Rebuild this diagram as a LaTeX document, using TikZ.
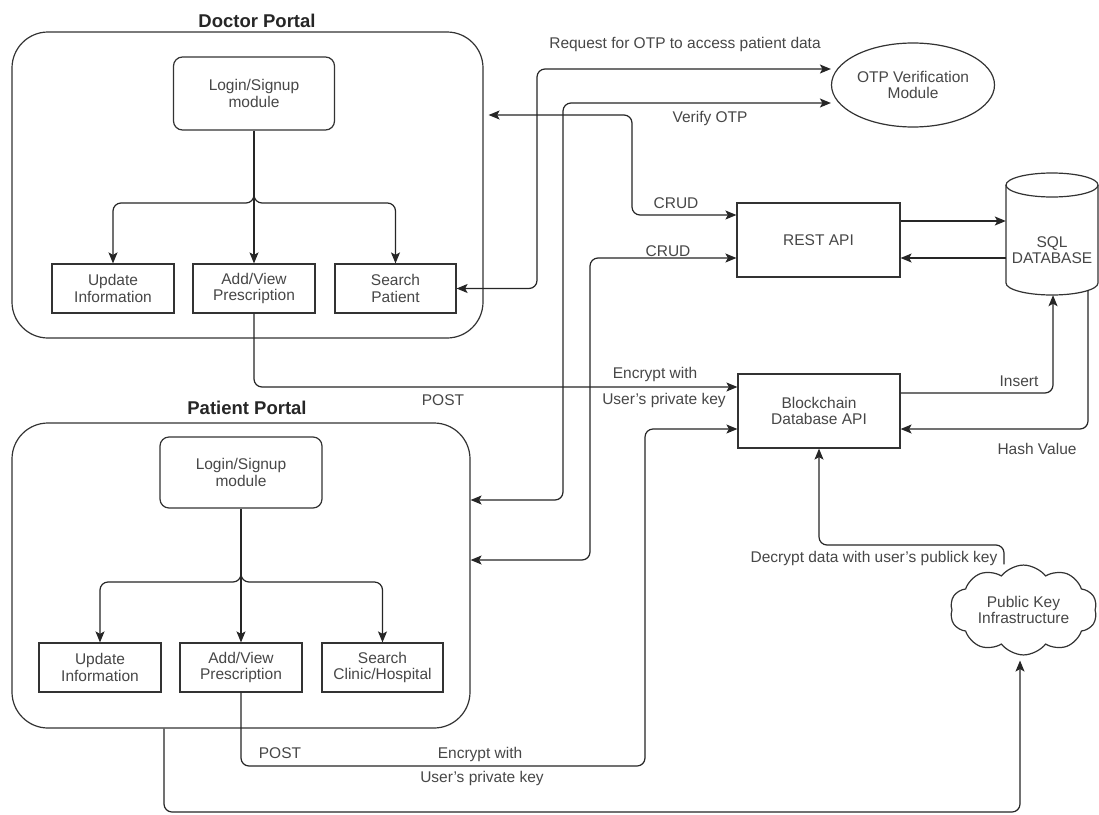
\documentclass[tikz,border=0pt]{standalone}
\usepackage{fontspec}
\setmainfont{Liberation Sans}
\usetikzlibrary{arrows.meta,shapes.geometric,shapes.symbols}
\begin{document}
\begin{tikzpicture}[x=1pt,y=-1pt,
  every node/.style={font=\fontsize{15.5}{16.5}\selectfont, text=black!72, inner sep=0pt, align=center},
  box/.style={draw=black!80, line width=1.2pt, minimum width=122pt, minimum height=49pt},
  rbox/.style={draw=black!80, line width=1.2pt, rounded corners=9pt},
  portal/.style={draw=black!80, line width=1.2pt, rounded corners=36pt},
  ttl/.style={font=\fontsize{18.5}{20}\selectfont\bfseries, text=black!85},
  conn/.style={draw=black!85, line width=1.2pt, rounded corners=8pt},
  arr/.style={conn, -{Stealth[length=11pt,width=9pt,inset=2.5pt]}},
  barr/.style={conn, {Stealth[length=11pt,width=9pt,inset=2.5pt]}-{Stealth[length=11pt,width=9pt,inset=2.5pt]}},
]
\useasboundingbox[fill=white] (0,0) rectangle (1099,814);

% ---------- Doctor portal ----------
\node[ttl] (dtitle) at (257,21) {Doctor Portal};
\node[portal, minimum width=471pt, minimum height=306pt] (dp) at (247.5,185) {};
\node[rbox, minimum width=161pt, minimum height=73pt] (dlogin) at (254,93.5) {Login/Signup\\module};
\node[box] (dupd) at (113,288.5) {Update\\Information};
\node[box] (dadd) at (254,288.5) {Add/View\\Prescription};
\node[box, minimum width=121pt] (dsearch) at (395.5,288.5) {Search\\Patient};

% ---------- Patient portal ----------
\node[ttl] (ptitle) at (247,408) {Patient Portal};
\node[portal, minimum width=458pt, minimum height=305pt] (pp) at (241,575.5) {};
\node[rbox, minimum width=162pt, minimum height=71pt] (plogin) at (241,472.5) {Login/Signup\\module};
\node[box] (pupd) at (100,667.5) {Update\\Information};
\node[box] (padd) at (241,667.5) {Add/View\\Prescription};
\node[box, minimum width=121pt] (psearch) at (382.5,667.5) {Search\\Clinic/Hospital};

% ---------- Services ----------
\node[ellipse, draw=black!80, line width=1.2pt, minimum width=163pt, minimum height=84pt] (otp) at (913,85) {OTP Verification\\Module};
\node[box, minimum width=163pt, minimum height=74pt] (rest) at (818.5,240) {REST API};
\node[box, minimum width=162pt, minimum height=74pt] (blk) at (819,411) {Blockchain\\Database API};
\node[minimum width=92pt, minimum height=90pt] (sql) at (1052,250) {SQL\\DATABASE};
\draw[draw=black!80, line width=1.2pt] (1006,185) -- (1006,283)
  .. controls (1006,289.6) and (1026.6,295) .. (1052,295)
  .. controls (1077.4,295) and (1098,289.6) .. (1098,283) -- (1098,185);
\draw[draw=black!80, line width=1.2pt] (1052,185) ellipse [x radius=46pt, y radius=12pt];
\node[cloud, draw=black!80, line width=1.2pt, cloud puffs=10, cloud puff arc=105, aspect=1.75,
  minimum width=147pt, minimum height=84pt] (pki) at (1023.5,610) {Public Key\\Infrastructure};

% ---------- Doctor internal connectors ----------
\draw[arr] (dlogin.south) -- (dadd.north);
\draw[arr] (254,195) -- (254,203) -- (dupd.north |- 0,203) -- (dupd.north);
\draw[arr] (254,195) -- (254,203) -- (dsearch.north |- 0,203) -- (dsearch.north);

% ---------- Patient internal connectors ----------
\draw[arr] (plogin.south) -- (padd.north);
\draw[arr] (241,575) -- (241,582) -- (pupd.north |- 0,582) -- (pupd.north);
\draw[arr] (241,575) -- (241,582) -- (psearch.north |- 0,582) -- (psearch.north);

% ---------- OTP ----------
\draw[barr] (dsearch.east) -- (537,288.5) -- (537,69) -- (otp.west |- 0,69);
\draw[barr] (pp.east |- 0,500) -- (563,500) -- (563,103) -- (otp.west |- 0,103);
\node (lreq) at (685,44) {Request for OTP to access patient data};
\node (lver) at (710,118) {Verify OTP};

% ---------- REST API ----------
\draw[barr, shorten <=5pt] (dp.east |- 0,115) -- (632,115) -- (632,215) -- (rest.west |- 0,215);
\draw[barr] (pp.east |- 0,560) -- (590,560) -- (590,258) -- (rest.west |- 0,258);
\node (lcrud1) at (676,203) {CRUD};
\node (lcrud2) at (668,251) {CRUD};
\draw[arr] (rest.east |- 0,221) -- (sql.west |- 0,221);
\draw[arr] (sql.west |- 0,258) -- (rest.east |- 0,258);

% ---------- Blockchain ----------
\draw[arr] (dadd.south) -- (254,387) -- (blk.west |- 0,387);
\node (lpost1) at (443,400) {POST};
\node (lenc1) at (655,374) {Encrypt with};
\node (lkey1) at (664,400) {User's private key};

\draw[arr] (padd.south) -- (241,766) -- (645,766) -- (645,429) -- (blk.west |- 0,429);
\node (lpost2) at (280,753) {POST};
\node (lenc2) at (480,754) {Encrypt with};
\node (lkey2) at (482,778) {User's private key};

\draw[arr] (blk.east |- 0,393) -- (1053,393) -- (sql.south -| 1053,0);
\node (lins) at (1019,381) {Insert};
\draw[arr, shorten <=-5pt] (sql.south -| 1088,0) -- (1088,429) -- (blk.east |- 0,429);
\node (lhash) at (1037,449) {Hash Value};

% ---------- PKI ----------
\draw[arr] (pki.north -| 1004,0) -- (1004,545) -- (819,545) -- (blk.south);
\node (ldec) at (874,558) {Decrypt data with user's publick key};
\draw[arr, shorten >=5pt] (pp.south -| 164,0) -- (164,812) -- (1020,812) -- (pki.south -| 1020,0);
\end{tikzpicture}
\end{document}
